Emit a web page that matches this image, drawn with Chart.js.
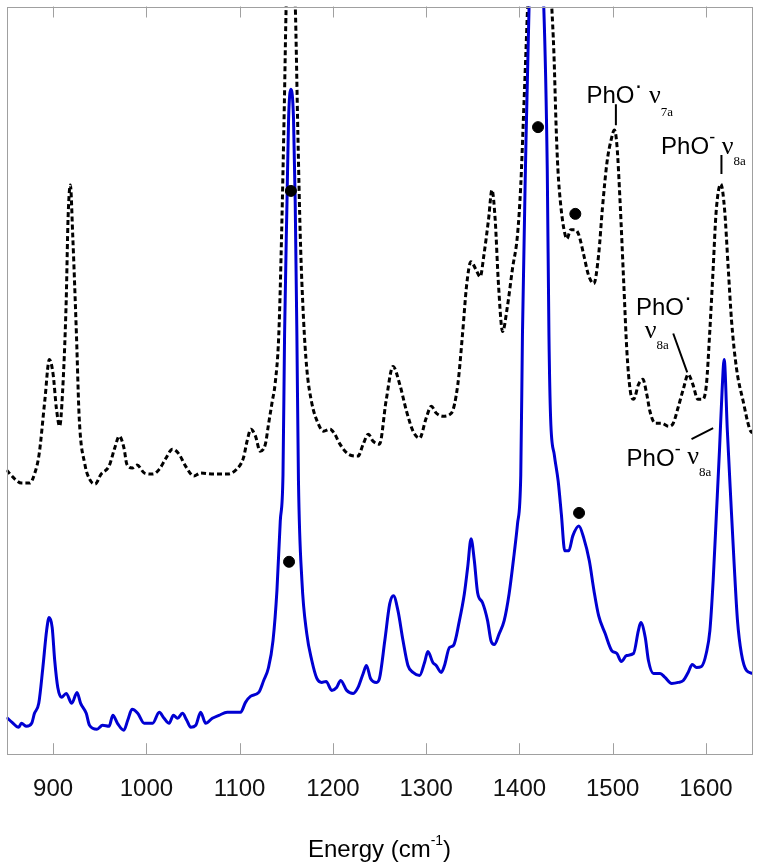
<!DOCTYPE html>
<html>
<head>
<meta charset="utf-8">
<script src="https://cdn.jsdelivr.net/npm/chart.js@4.4.0/dist/chart.umd.min.js"></script>
<style>
  html, body { margin: 0; padding: 0; background: #fff; }
  #chart { display: block; }
</style>
</head>
<body>
<canvas id="chart" width="759" height="865"></canvas>
<script>
// [energy (cm-1), intensity (arb. units)]
const dottedSpectrum = [
  [850, 285], [859, 276], [866, 272], [875, 272], [880, 281], [885, 301], [891, 354], [896, 396],
  [900, 381], [903.5, 347], [907, 329], [910, 361], [914, 454], [916, 537], [918.5, 571], [921, 521],
  [925, 421], [928, 337], [934, 291], [939, 276], [945, 271], [951.5, 281], [960, 289], [966, 307],
  [971, 319], [976, 307], [979, 291], [985, 287], [990, 290], [998, 282], [1007, 281], [1014, 286],
  [1021, 297], [1028, 306], [1035, 301], [1042, 289], [1051, 279], [1058, 282], [1072, 281], [1087, 281],
  [1097, 286], [1104, 297], [1108, 314], [1112, 326], [1117, 319], [1122, 304], [1127.6, 311], [1131, 331],
  [1135, 354], [1138, 371], [1142, 421], [1145, 521], [1148, 654], [1150, 754], [1155, 840], [1159.6, 754],
  [1162.5, 621], [1165, 521], [1168.5, 437], [1172, 387], [1177, 354], [1184.5, 331], [1190, 324], [1197, 326],
  [1202, 321], [1207.6, 311], [1216.5, 301], [1227, 299], [1232.5, 311], [1238, 321], [1243, 314], [1250, 311],
  [1257, 354], [1264.5, 389], [1271.7, 371], [1279, 344], [1286, 324], [1293, 317], [1300, 337], [1305.5, 349],
  [1311, 342], [1318, 339], [1327, 342], [1334, 371], [1339, 421], [1343.5, 471], [1348, 494], [1353, 487],
  [1358, 479], [1362, 501], [1367, 537], [1370.6, 566], [1374, 537], [1377.6, 471], [1382, 424], [1387, 448],
  [1392.6, 487], [1398, 521], [1401.5, 571], [1404.3, 637], [1407, 704], [1409, 754], [1421, 1000], [1434.5, 754],
  [1437, 704], [1439.5, 627], [1441.3, 587], [1444, 554], [1447.7, 527], [1451, 517], [1455, 526], [1460, 526],
  [1463.7, 521], [1469, 501], [1474, 481], [1479.8, 472], [1485, 501], [1489, 547], [1494, 594], [1498.6, 617],
  [1501.9, 626], [1504.6, 611], [1508, 554], [1512, 471], [1515.3, 404], [1519, 364], [1522.5, 356], [1527.8, 371],
  [1532.4, 376], [1536.6, 361], [1540, 344], [1545.6, 332], [1552.6, 332], [1560, 329], [1565, 332], [1570, 347],
  [1576, 367], [1581, 381], [1586, 371], [1591.4, 356], [1596.7, 356], [1600.6, 371], [1604, 421], [1607.8, 487],
  [1611, 544], [1616, 572], [1620, 547], [1624, 487], [1627.6, 434], [1633, 386], [1640, 354], [1647, 326],
  [1650, 322]
];

const solidSpectrum = [
  [850, 37], [856, 32], [863, 27], [866, 31], [871.5, 28], [877, 31], [880, 41], [884.6, 51],
  [889, 87], [893, 124], [895.7, 137], [899, 127], [901.7, 94], [905, 67], [909, 57], [914, 61],
  [920, 51], [925.6, 62], [929.5, 51], [935.5, 41], [939, 29], [947, 25], [953, 29], [960, 28],
  [964, 39], [969, 31], [975.8, 24], [980, 34], [984.6, 45], [990.7, 41], [997.7, 31], [1006.7, 31],
  [1013.8, 42], [1019, 36], [1024.4, 31], [1029, 39], [1033.4, 36], [1038.7, 41], [1043.3, 34], [1047.6, 27],
  [1053, 29], [1058.2, 42], [1063.6, 31], [1070.7, 36], [1077.8, 39], [1086.7, 42], [1093.8, 42], [1101, 42],
  [1106.3, 52], [1111.6, 58], [1120.5, 62], [1125.8, 74], [1131, 87], [1135.8, 114], [1140, 164], [1143.6, 234],
  [1146.5, 280], [1148.2, 421], [1150.8, 554], [1152.5, 637], [1155, 667], [1157.8, 637], [1159.6, 554], [1161.4, 421],
  [1163.1, 274], [1166.8, 174], [1172, 121], [1177.4, 94], [1182.8, 76], [1188, 72], [1192.7, 73], [1198.8, 64],
  [1204, 67], [1208.4, 74], [1214.8, 64], [1221.8, 61], [1227, 67], [1232.5, 81], [1236, 89], [1240.4, 76],
  [1246.8, 72], [1250, 76], [1255.7, 114], [1261, 151], [1265, 159], [1269.8, 144], [1275.2, 114], [1280.5, 89],
  [1285.9, 82], [1293, 79], [1298.3, 92], [1301.9, 103], [1307.2, 92], [1310.8, 89], [1316.2, 82], [1319.7, 89],
  [1325, 107], [1329.3, 109], [1335.7, 134], [1341, 161], [1344.5, 187], [1348.2, 216], [1351.7, 194], [1355.2, 162],
  [1360.5, 152], [1365.9, 134], [1369.5, 114], [1373, 110], [1378.4, 121], [1383.7, 134], [1389, 161], [1394.4, 201],
  [1398, 231], [1401.5, 280], [1403.3, 421], [1406.5, 587], [1410.5, 754], [1418, 850], [1426, 754], [1429.9, 587],
  [1431.7, 421], [1433.5, 337], [1437.5, 300], [1441.6, 274], [1445, 241], [1448.7, 204], [1453, 204], [1457.3, 219],
  [1463.8, 229], [1469, 217], [1475, 194], [1480, 164], [1485, 139], [1492, 121], [1499, 104], [1504.6, 101],
  [1509.3, 93], [1515, 99], [1522.4, 101], [1527.6, 124], [1530.2, 132], [1535, 117], [1538.4, 94], [1543.8, 81],
  [1550.9, 81], [1556.2, 77], [1563.3, 71], [1570.4, 72], [1575.8, 74], [1581, 82], [1585.4, 90], [1590, 87],
  [1595.3, 88], [1600.6, 102], [1604.3, 124], [1607.8, 174], [1611.3, 241], [1614.6, 305], [1617.4, 365], [1619.6, 396],
  [1623, 325], [1626.8, 254], [1630.3, 191], [1633.9, 134], [1638.1, 101], [1643.5, 84], [1650, 81]
];

// black dots marking bands
const markerPoints = [[1155, 565], [1153, 193], [1420, 629], [1460, 542], [1464, 242]];

const energyTicks = [900, 1000, 1100, 1200, 1300, 1400, 1500, 1600];

const toXY = (arr) => arr.map((p) => ({ x: p[0], y: p[1] }));

const SANS = 'Arial, "Liberation Sans", sans-serif';
const SERIF = '"Times New Roman", "Liberation Serif", serif';

// band labels: anchor in data units, then pieces of text [text, size, family, baseline shift]
const bandLabels = [
  { e: 1472, i: 653, parts: [["PhO", 24, SANS, 0], ["·", 24, SANS, -10], [" ν", 26, SERIF, 0], ["7a", 13, SERIF, 13]] },
  { e: 1552, i: 602, parts: [["PhO", 24, SANS, 0], ["-", 18, SANS, -11], [" ν", 26, SERIF, 0], ["8a", 13, SERIF, 11]] },
  { e: 1525, i: 441, parts: [["PhO", 24, SANS, 0], ["·", 24, SANS, -10]] },
  { e: 1534.5, i: 417, parts: [["ν", 26, SERIF, 0], ["8a", 13, SERIF, 11]] },
  { e: 1515, i: 289, parts: [["PhO", 24, SANS, 0], ["-", 18, SANS, -11], [" ν", 26, SERIF, -2], ["8a", 13, SERIF, 10]] },
];
const leaderLines = [
  [1503.5, 652, 1503.5, 631],
  [1616.7, 601, 1616.7, 582],
  [1565, 422, 1580, 383],
  [1584.6, 316, 1607.8, 327],
];

const decorations = {
  id: "decorations",
  afterDatasetsDraw(chart) {
    const { ctx, chartArea: { left, right, top, bottom }, scales: { x, y } } = chart;
    ctx.save();

    // frame with inward ticks top and bottom
    ctx.strokeStyle = "#a0a0a0";
    ctx.lineWidth = 1;
    ctx.strokeRect(Math.round(left) + 0.5, Math.round(top) + 0.5,
      Math.round(right - left) - 1, Math.round(bottom - top) - 1);
    ctx.beginPath();
    energyTicks.forEach((v) => {
      const px = Math.round(x.getPixelForValue(v)) + 0.5;
      ctx.moveTo(px, bottom);
      ctx.lineTo(px, bottom - 11);
      ctx.moveTo(px, top);
      ctx.lineTo(px, top + 11);
    });
    ctx.stroke();

    // leader lines
    ctx.strokeStyle = "#000";
    ctx.lineWidth = 2;
    ctx.beginPath();
    leaderLines.forEach((l) => {
      ctx.moveTo(x.getPixelForValue(l[0]), y.getPixelForValue(l[1]));
      ctx.lineTo(x.getPixelForValue(l[2]), y.getPixelForValue(l[3]));
    });
    ctx.stroke();

    // band labels
    ctx.fillStyle = "#000";
    ctx.textBaseline = "alphabetic";
    ctx.textAlign = "left";
    bandLabels.forEach((lab) => {
      let px = x.getPixelForValue(lab.e);
      const py = y.getPixelForValue(lab.i);
      lab.parts.forEach((p) => {
        ctx.font = p[1] + "px " + p[2];
        ctx.fillText(p[0], px, py + p[3]);
        px += ctx.measureText(p[0]).width;
      });
    });

    // axis title with superscript
    const cx = (left + right) / 2;
    const by = chart.height - 8;
    ctx.font = "24px " + SANS;
    const a = "Energy (cm";
    const c = ")";
    const wa = ctx.measureText(a).width;
    const wc = ctx.measureText(c).width;
    ctx.font = "14px " + SANS;
    const b = "-1";
    const wb = ctx.measureText(b).width;
    let sx = cx - (wa + wb + wc) / 2;
    ctx.font = "24px " + SANS;
    ctx.fillText(a, sx, by);
    ctx.font = "14px " + SANS;
    ctx.fillText(b, sx + wa, by - 12);
    ctx.font = "24px " + SANS;
    ctx.fillText(c, sx + wa + wb, by);

    ctx.restore();
  },
};

const ctx = document.getElementById("chart").getContext("2d");
const chart = new Chart(ctx, {
  type: "line",
  data: {
    datasets: [
      {
        type: "scatter",
        data: toXY(markerPoints),
        pointRadius: 5.5,
        pointBackgroundColor: "#000",
        pointBorderColor: "#000",
        showLine: false,
      },
      {
        data: toXY(solidSpectrum),
        borderColor: "#0000d2",
        borderWidth: 3,
        pointRadius: 0,
        cubicInterpolationMode: "monotone",
        fill: false,
      },
      {
        data: toXY(dottedSpectrum),
        borderColor: "#000",
        borderWidth: 3,
        borderDash: [5, 3],
        pointRadius: 0,
        cubicInterpolationMode: "monotone",
        fill: false,
      },
    ],
  },
  plugins: [decorations],
  options: {
    responsive: false,
    animation: false,
    devicePixelRatio: 1,
    layout: { padding: { left: 4, right: 4, top: 4, bottom: 40 } },
    plugins: {
      legend: { display: false },
      tooltip: { enabled: false },
    },
    scales: {
      x: {
        type: "linear",
        min: 850,
        max: 1650,
        grid: { display: false, drawTicks: false },
        border: { display: false },
        afterBuildTicks: (scale) => {
          scale.ticks = energyTicks.map((v) => ({ value: v }));
        },
        ticks: {
          padding: 21,
          color: "#111",
          font: { size: 24, family: SANS },
          callback: (v) => String(v),
        },
      },
      y: {
        display: false,
        min: 0,
        max: 750,
      },
    },
  },
});
</script>
</body>
</html>
